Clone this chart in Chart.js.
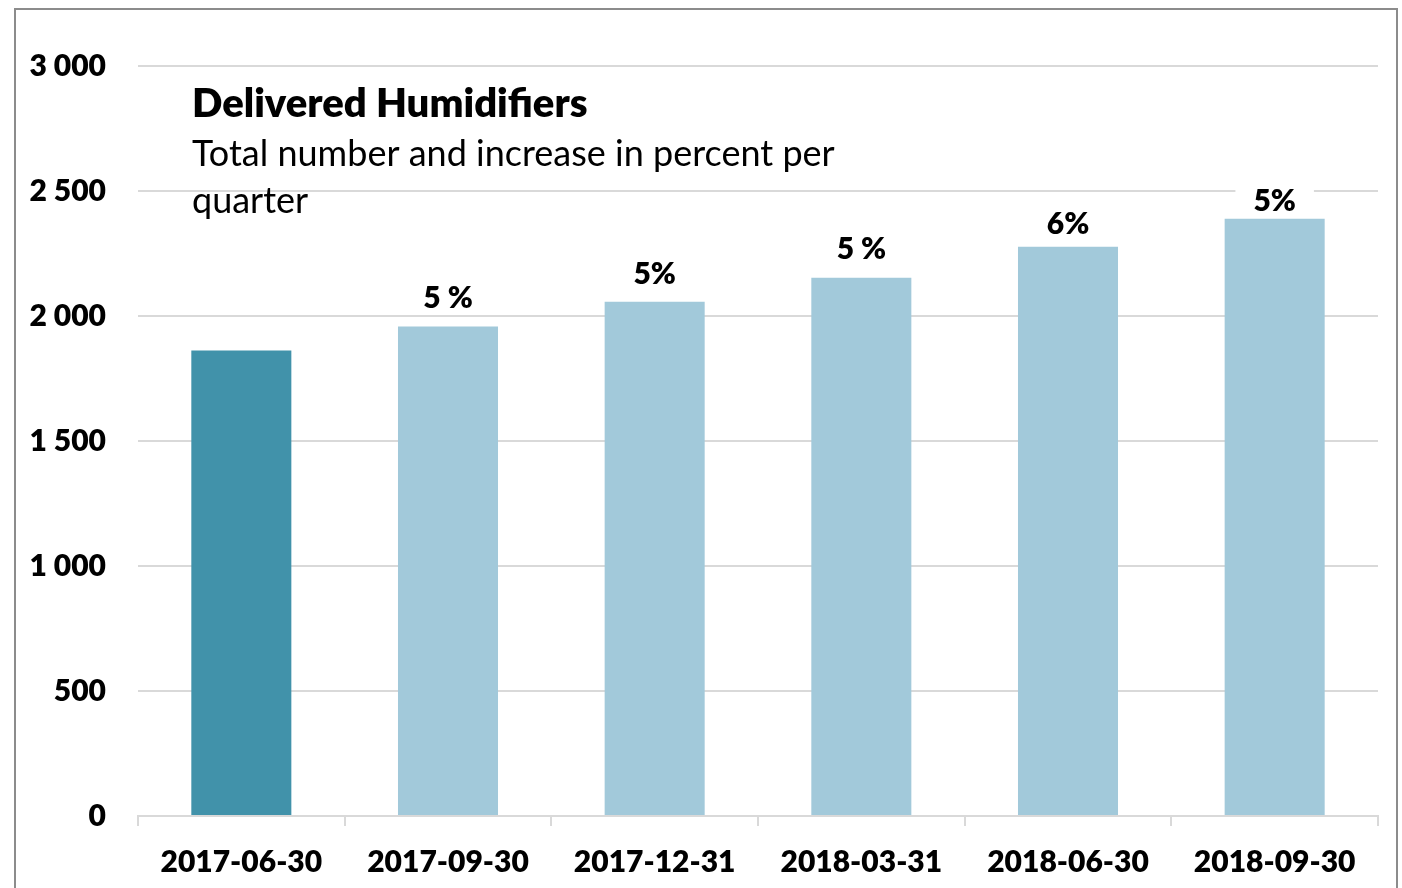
<!DOCTYPE html>
<html>
<head>
<meta charset="utf-8">
<script src="https://cdn.jsdelivr.net/npm/chart.js@4.4.0/dist/chart.umd.min.js"></script>
<style>
  html, body { margin: 0; padding: 0; background: #fff; }
  #frame {
    position: absolute; left: 14px; top: 8px; width: 1384px; height: 900px;
    border: 2px solid #8c8c8c; box-sizing: border-box;
  }
  #wrap { position: absolute; left: 0; top: 0; width: 1402px; height: 888px; }
</style>
</head>
<body>
<div id="frame"></div>
<div id="wrap"><canvas id="grafico"></canvas></div>
<script>
const categorias = ["2017-06-30", "2017-09-30", "2017-12-31", "2018-03-31", "2018-06-30", "2018-09-30"];
const entregados = [1862, 1958, 2057, 2153, 2277, 2389];
const aumentos = ["", "5 %", "5%", "5 %", "6%", "5%"];
const colores = ["#4192AA", "#A2C9DA", "#A2C9DA", "#A2C9DA", "#A2C9DA", "#A2C9DA"];
const tituloTexto = "Delivered Humidifiers";
const subtituloLineas = ["Total number and increase in percent per", "quarter"];

// separacion de cada etiqueta respecto a la barra (px)
const separacionEtiqueta = [28, 28, 27, 28, 22, 17];

const FUENTE = "Lato, 'Noto Sans', sans-serif";
const NEGRITA = "800";

// etiquetas de porcentaje encima de cada barra, con fondo blanco
const etiquetasPlugin = {
  id: "etiquetas",
  afterDatasetsDraw(chart) {
    const ctx = chart.ctx;
    const meta = chart.getDatasetMeta(0);
    ctx.save();
    ctx.font = NEGRITA + " 30px " + FUENTE;
    ctx.textAlign = "center";
    ctx.textBaseline = "middle";
    meta.data.forEach((bar, i) => {
      const txt = aumentos[i];
      if (!txt) return;
      const w = ctx.measureText(txt).width;
      const yc = bar.y - separacionEtiqueta[i];
      ctx.fillStyle = "#fff";
      ctx.fillRect(bar.x - w / 2 - 18, yc - 16, w + 36, 32);
      ctx.fillStyle = "#000";
      ctx.fillText(txt, bar.x, yc);
    });
    ctx.restore();
  },
};

// titulo dentro del area del grafico
const tituloPlugin = {
  id: "tituloInterno",
  afterDraw(chart) {
    const ctx = chart.ctx;
    ctx.save();
    ctx.fillStyle = "#000";
    ctx.textAlign = "left";
    ctx.textBaseline = "middle";
    ctx.font = NEGRITA + " 40px " + FUENTE;
    ctx.fillText(tituloTexto, 192, 104);
    ctx.font = "36px " + FUENTE;
    subtituloLineas.forEach((linea, i) => {
      ctx.fillText(linea, 192, 154 + i * 47);
    });
    ctx.restore();
  },
};

new Chart(document.getElementById("grafico"), {
  type: "bar",
  data: {
    labels: categorias,
    datasets: [
      {
        label: "Delivered",
        data: entregados,
        backgroundColor: colores,
        borderWidth: 0,
        barPercentage: 0.484,
        categoryPercentage: 1,
      },
    ],
  },
  options: {
    responsive: true,
    maintainAspectRatio: false,
    animation: false,
    layout: { padding: { top: 66, right: 24, bottom: 0, left: 0 } },
    plugins: {
      legend: { display: false },
      tooltip: { enabled: false },
      title: { display: false },
    },
    scales: {
      x: {
        offset: true,
        afterFit: (scale) => { scale.height = 72; },
        grid: {
          offset: true,
          drawOnChartArea: false,
          color: "#d9d9d9",
          lineWidth: 2,
          tickLength: 10,
        },
        border: { color: "#d9d9d9", width: 2 },
        ticks: {
          color: "#000",
          font: { family: FUENTE, size: 30, weight: NEGRITA },
          padding: 18,
          maxRotation: 0,
        },
      },
      y: {
        min: 0,
        max: 3000,
        afterFit: (scale) => { scale.width = 138; },
        grid: { color: "#d9d9d9", lineWidth: 2, drawTicks: false },
        border: { display: false },
        ticks: {
          stepSize: 500,
          color: "#000",
          padding: 32,
          font: { family: FUENTE, size: 30, weight: NEGRITA },
          callback: (v) => v.toLocaleString("en-US").replace(/,/g, " "),
        },
      },
    },
  },
  plugins: [etiquetasPlugin, tituloPlugin],
});
</script>
</body>
</html>
